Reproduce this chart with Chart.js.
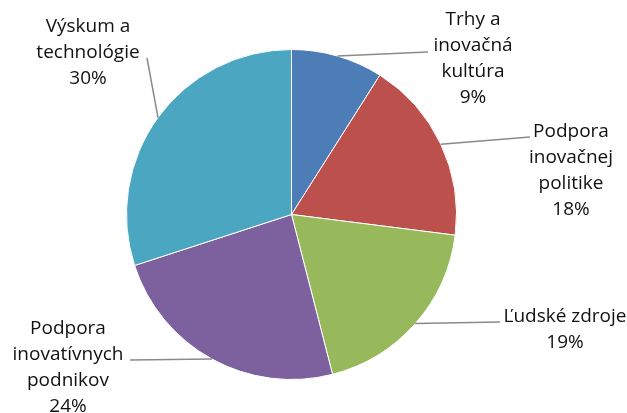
<!DOCTYPE html>
<html>
<head>
<meta charset="utf-8">
<script src="https://cdn.jsdelivr.net/npm/chart.js@4"></script>
<style>
  html, body { margin: 0; padding: 0; background: #fff; }
  #wrap { width: 627px; height: 413px; position: relative; }
</style>
</head>
<body>
<div id="wrap"><canvas id="pieChart"></canvas></div>
<script>
// ============================================================
//  PIE: rozdelenie podľa oblastí
// ============================================================
const categories = [
    ['Trhy a', 'inovačná', 'kultúra'],
    ['Podpora', 'inovačnej', 'politike'],
    ['Ľudské zdroje'],
    ['Podpora', 'inovatívnych', 'podnikov'],
    ['Výskum a', 'technológie']
];
const shares = [9, 18, 19, 24, 30];
const colors = ['#4d7db7', '#bb504d', '#98b95b', '#7c619e', '#4ba7c1'];

// label block placement: centre x, first line y, leader end point
const labelPos = [
    { cx: 473, y: 20,  ex: 428, ey: 52  },
    { cx: 571, y: 132, ex: 530, ey: 137 },
    { cx: 565, y: 317, ex: 500, ey: 322 },
    { cx: 68,  y: 329, ex: 130, ey: 360 },
    { cx: 88,  y: 27,  ex: 147, ey: 58  }
];
const LINE_H = 25.7;
const FONT   = '19px "Open Sans", "DejaVu Sans", sans-serif';

const leaderLabels = {
    id: 'leaderLabels',
    afterDraw(chart) {
        const ctx  = chart.ctx;
        const arcs = chart.getDatasetMeta(0).data;
        ctx.save();
        arcs.forEach(function (arc, i) {
            const p   = arc.getProps(['x', 'y', 'startAngle', 'endAngle', 'outerRadius'], true);
            const mid = (p.startAngle + p.endAngle) / 2;
            const sx  = p.x + Math.cos(mid) * p.outerRadius;
            const sy  = p.y + Math.sin(mid) * p.outerRadius;
            const lp  = labelPos[i];

            ctx.strokeStyle = '#8a8a8a';
            ctx.lineWidth = 1.5;
            ctx.beginPath();
            ctx.moveTo(sx, sy);
            ctx.lineTo(lp.ex, lp.ey);
            ctx.stroke();

            const lines = categories[i].concat([shares[i] + '%']);
            ctx.fillStyle = '#111';
            ctx.font = FONT;
            ctx.textAlign = 'center';
            ctx.textBaseline = 'middle';
            lines.forEach(function (t, k) {
                ctx.fillText(t, lp.cx, lp.y + k * LINE_H);
            });
        });
        ctx.restore();
    }
};

new Chart(document.getElementById('pieChart'), {
    type: 'pie',
    data: {
        labels: categories.map(function (c) { return c.join(' '); }),
        datasets: [{
            data: shares,
            backgroundColor: colors,
            borderColor: '#ffffff',
            borderWidth: 1
        }]
    },
    options: {
        responsive: true, maintainAspectRatio: false, animation: false,
        layout: { padding: { top: 49, bottom: 33, left: 126, right: 170 } },
        plugins: { legend: { display: false }, tooltip: { enabled: false } }
    },
    plugins: [leaderLabels]
});
</script>
</body>
</html>
